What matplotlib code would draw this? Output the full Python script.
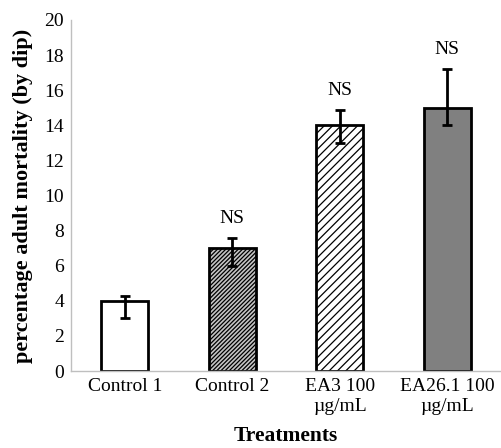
import numpy as np
import matplotlib.pyplot as plt

plt.rcParams['font.family'] = ['Liberation Serif', 'DejaVu Serif']
plt.rcParams['hatch.linewidth'] = 0.9

labels = ['Control 1', 'Control 2', 'EA3 100\n\u00b5g/mL', 'EA26.1 100\n\u00b5g/mL']
values = [4, 7, 14, 15]
err_low = [1.0, 1.0, 1.0, 1.0]
err_high = [0.3, 0.6, 0.9, 2.2]
sig = ['', 'NS', 'NS', 'NS']

faces = ['white', '#c4c4c4', 'white', '#808080']
hatches = [None, '////////', '////', None]

fig = plt.figure(figsize=(5.01, 4.48), dpi=100)
ax = fig.add_axes([71/501, 77/448, 430/501, 351/448])

x = np.arange(len(values))
bars = ax.bar(x, values, width=0.44, color=faces, edgecolor='black', linewidth=2.0, zorder=2)
for b, h in zip(bars, hatches):
    if h:
        b.set_hatch(h)
ax.errorbar(x, values, yerr=[err_low, err_high], fmt='none', ecolor='black',
            elinewidth=2.0, capsize=3.5, capthick=2.0, zorder=3)

for xi, v, eh, s in zip(x, values, err_high, sig):
    if s:
        ax.text(xi, v + eh + 1.1, s, ha='center', va='center', fontsize=14)

ax.set_xlim(-0.5, 3.5)
ax.set_ylim(0, 20)
ax.set_yticks(range(0, 21, 2))
ax.set_xticks(x)
ax.set_xticklabels(labels)
ax.tick_params(axis='both', length=0, labelsize=14)
ax.tick_params(axis='y', pad=5)
ax.tick_params(axis='x', pad=5)
for sp in ['top', 'right']:
    ax.spines[sp].set_visible(False)
for sp in ['left', 'bottom']:
    ax.spines[sp].set_color('#bfbfbf')
    ax.spines[sp].set_linewidth(1.0)

ax.set_ylabel('percentage adult mortality (by dip)', fontsize=16, fontweight='bold', labelpad=8)
ax.set_xlabel('Treatments', fontsize=15.5, fontweight='bold', labelpad=8)

fig.savefig('out.png', dpi=100)
